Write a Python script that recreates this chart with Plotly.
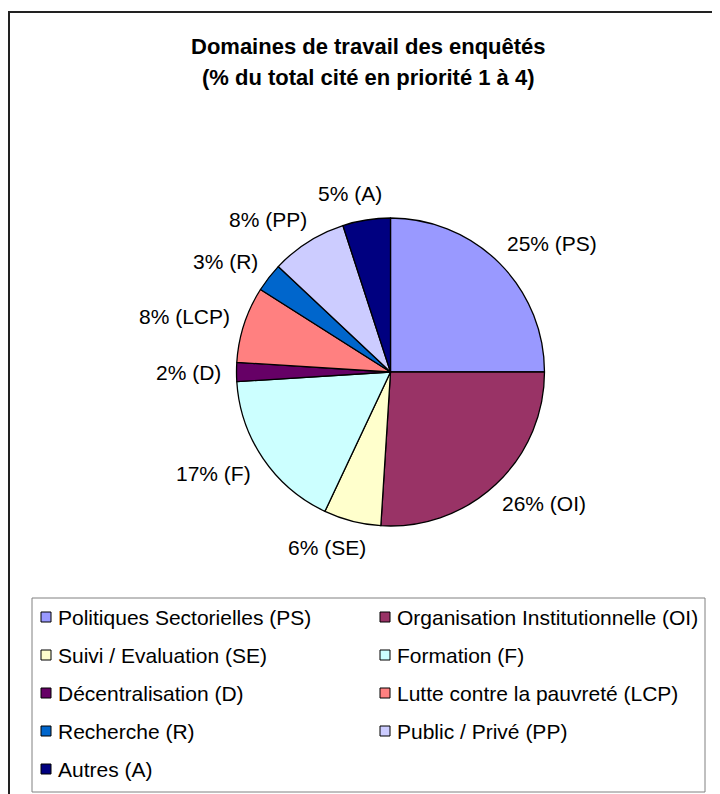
import math
import plotly.graph_objects as go

# ---------------- Data ----------------
categories = [
    "Politiques Sectorielles (PS)",
    "Organisation Institutionnelle (OI)",
    "Suivi / Evaluation (SE)",
    "Formation (F)",
    "Décentralisation (D)",
    "Lutte contre la pauvreté (LCP)",
    "Recherche (R)",
    "Public / Privé (PP)",
    "Autres (A)",
]
abbrev = ["PS", "OI", "SE", "F", "D", "LCP", "R", "PP", "A"]
percent = [25, 26, 6, 17, 2, 8, 3, 8, 5]
colors = ["#9999FF", "#993366", "#FFFFCC", "#CCFFFF", "#660066",
          "#FF8080", "#0066CC", "#CCCCFF", "#000080"]

title_line1 = "Domaines de travail des enquêtés"
title_line2 = "(% du total cité en priorité 1 à 4)"

# ---------------- Layout constants (figure pixels) ----------------
W, H = 720, 794
FONT = "Liberation Sans, Arial, sans-serif"
OFF = 8  # page body margin: figure origin sits at page (8, 8)

cx, cy, r = 390.5 - OFF, 372 - OFF, 154
LABEL_SIZE = 21
LEG_SIZE = 21


def px(x):
    return x / W


def py(y):
    return 1 - y / H


# Arial advance widths (em) for the label characters
_AW = {"0": .556, "1": .556, "2": .556, "3": .556, "4": .556, "5": .556, "6": .556,
       "7": .556, "8": .556, "9": .556, "%": .889, " ": .278, "(": .333, ")": .333,
       "P": .667, "S": .667, "O": .778, "I": .278, "E": .667, "F": .611, "D": .722,
       "L": .556, "C": .722, "R": .722, "A": .667}


def text_width(s, size):
    return sum(_AW.get(c, .6) for c in s) * size


labels_txt = [f"{p}% ({a})" for p, a in zip(percent, abbrev)]

fig = go.Figure(go.Pie(
    labels=categories,
    values=percent,
    textinfo="none",
    marker=dict(colors=colors, line=dict(color="black", width=1.3)),
    sort=False,
    direction="clockwise",
    rotation=0,
    showlegend=False,
    hovertemplate="%{label}: %{value}%<extra></extra>",
    domain=dict(x=[px(cx - r), px(cx + r)], y=[py(cy + r), py(cy - r)]),
))

annotations = [
    dict(text=f"<b>{title_line1}</b>", x=0.5, y=py(47 - OFF), xref="paper", yref="paper",
         showarrow=False, font=dict(family=FONT, size=22, color="black"), yanchor="middle"),
    dict(text=f"<b>{title_line2}</b>", x=0.5, y=py(78 - OFF), xref="paper", yref="paper",
         showarrow=False, font=dict(family=FONT, size=22, color="black"), yanchor="middle"),
]

# Outside slice labels, placed beyond the rim along each slice's mid-angle
total = sum(percent)
cum = 0.0
gap = 15
th = LABEL_SIZE * 1.15
for v, lab in zip(percent, labels_txt):
    mid = (cum + v / 2) / total * 2 * math.pi
    cum += v
    dx, dy = math.sin(mid), -math.cos(mid)
    tw = text_width(lab, LABEL_SIZE)
    fx = min(1.0, 1.1 * math.sqrt(abs(dx))) * (1 if dx >= 0 else -1)
    lx = cx + (r + gap) * dx + tw / 2 * fx
    ly = cy + (r + gap) * dy + th / 2 * dy
    annotations.append(dict(text=lab, x=px(lx), y=py(ly), xref="paper", yref="paper",
                            showarrow=False, xanchor="center", yanchor="middle",
                            font=dict(family=FONT, size=LABEL_SIZE, color="black")))

shapes = [
    # outer chart frame (runs off the right and bottom edges)
    dict(type="rect", xref="paper", yref="paper", x0=px(1), x1=1.05, y0=-0.05, y1=py(12 - OFF),
         line=dict(color="#222222", width=2), fillcolor="rgba(0,0,0,0)", layer="below"),
    # legend box
    dict(type="rect", xref="paper", yref="paper", x0=px(32 - OFF), x1=px(705 - OFF),
         y0=py(792 - OFF), y1=py(598 - OFF),
         line=dict(color="#808080", width=1), fillcolor="white", layer="below"),
]

# Legend entries in two columns
col_x = [41 - OFF, 380 - OFF]
row_y0, row_dy = 617 - OFF, 38
sq = 10
for i, (name, col) in enumerate(zip(categories, colors)):
    row, c = divmod(i, 2)
    x0 = col_x[c]
    yc = row_y0 + row * row_dy
    shapes.append(dict(type="rect", xref="paper", yref="paper",
                       x0=px(x0), x1=px(x0 + sq), y0=py(yc + sq / 2), y1=py(yc - sq / 2),
                       line=dict(color="black", width=1), fillcolor=col))
    annotations.append(dict(text=name, x=px(x0 + sq + 5), y=py(yc), xref="paper", yref="paper",
                            showarrow=False, xanchor="left", yanchor="middle",
                            font=dict(family=FONT, size=LEG_SIZE, color="black")))

fig.update_layout(
    width=W, height=H,
    margin=dict(l=0, r=0, t=0, b=0),
    paper_bgcolor="white",
    plot_bgcolor="white",
    font=dict(family=FONT, color="black"),
    showlegend=False,
    annotations=annotations,
    shapes=shapes,
)

fig.write_html("out.html")
